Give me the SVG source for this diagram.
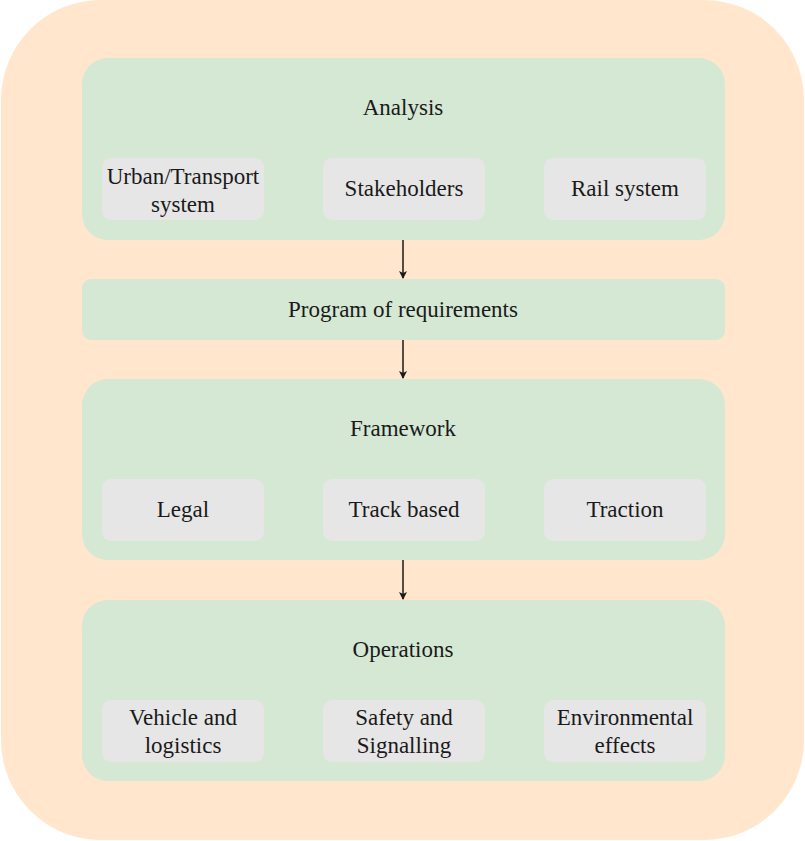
<svg xmlns="http://www.w3.org/2000/svg" width="805" height="841" viewBox="0 0 805 841">
<defs>
<style>
.outer{fill:#FFE6CC;}
.grp{fill:#D5E8D4;}
.item{fill:#E6E6E6;}
.conn line{stroke:#1a1a1a;stroke-width:1.5;}
</style>
<marker id="arr" markerWidth="8" markerHeight="8" refX="7" refY="4" orient="auto" markerUnits="userSpaceOnUse">
<path d="M0,0 L8,4 L0,8 L2,4 Z" fill="#1a1a1a"/>
</marker>
</defs>
<g font-family="Liberation Serif, Times New Roman, serif" font-size="23" fill="#1a1a1a" text-anchor="middle">
<g id="container">
<rect class="outer" x="1" y="0" width="803" height="840" rx="100" ry="100"/>
</g>
<g id="analysis">
<rect class="grp" x="82" y="58" width="643" height="182" rx="26"/>
<text x="403" y="115">Analysis</text>
</g>
<g id="urban">
<rect class="item" x="102" y="158" width="162" height="62" rx="9"/>
<text x="183" y="184">Urban/Transport</text>
<text x="183" y="212">system</text>
</g>
<g id="stakeholders">
<rect class="item" x="323" y="158" width="162" height="62" rx="9"/>
<text x="404" y="196">Stakeholders</text>
</g>
<g id="rail">
<rect class="item" x="544" y="158" width="162" height="62" rx="9"/>
<text x="625" y="196">Rail system</text>
</g>
<g id="program">
<rect class="grp" x="82" y="279" width="643" height="61" rx="9"/>
<text x="403" y="317">Program of requirements</text>
</g>
<g id="framework">
<rect class="grp" x="82" y="379" width="643" height="181" rx="26"/>
<text x="403" y="436">Framework</text>
</g>
<g id="legal">
<rect class="item" x="102" y="479" width="162" height="62" rx="9"/>
<text x="183" y="517">Legal</text>
</g>
<g id="track">
<rect class="item" x="323" y="479" width="162" height="62" rx="9"/>
<text x="404" y="517">Track based</text>
</g>
<g id="traction">
<rect class="item" x="544" y="479" width="162" height="62" rx="9"/>
<text x="625" y="517">Traction</text>
</g>
<g id="operations">
<rect class="grp" x="82" y="600" width="643" height="181" rx="26"/>
<text x="403" y="657">Operations</text>
</g>
<g id="vehicle">
<rect class="item" x="102" y="700" width="162" height="62" rx="9"/>
<text x="183" y="725">Vehicle and</text>
<text x="183" y="753">logistics</text>
</g>
<g id="safety">
<rect class="item" x="323" y="700" width="162" height="62" rx="9"/>
<text x="404" y="725">Safety and</text>
<text x="404" y="753">Signalling</text>
</g>
<g id="environmental">
<rect class="item" x="544" y="700" width="162" height="62" rx="9"/>
<text x="625" y="725">Environmental</text>
<text x="625" y="753">effects</text>
</g>
<g class="conn" id="connectors">
<line x1="403" y1="240" x2="403" y2="278" marker-end="url(#arr)"/>
<line x1="403" y1="340" x2="403" y2="378" marker-end="url(#arr)"/>
<line x1="403" y1="560" x2="403" y2="599" marker-end="url(#arr)"/>
</g>
</g>
</svg>
